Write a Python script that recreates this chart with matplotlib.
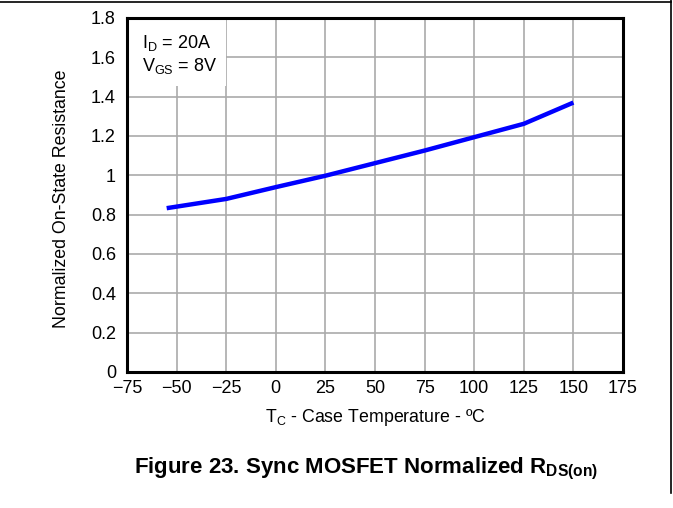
#!/usr/bin/env python3
import matplotlib
matplotlib.use("Agg")
import matplotlib.pyplot as plt
from matplotlib.lines import Line2D
from matplotlib.patches import Rectangle

TEMP = [-55, -25, 0, 25, 50, 75, 100, 125, 150]
RDS_NORM = [0.833, 0.880, 0.940, 0.998, 1.062, 1.126, 1.194, 1.262, 1.370]

XTICKS = [-75, -50, -25, 0, 25, 50, 75, 100, 125, 150, 175]
YTICKS = [0, 0.2, 0.4, 0.6, 0.8, 1, 1.2, 1.4, 1.6, 1.8]
YTICK_LABELS = ["0", "0.2", "0.4", "0.6", "0.8", "1", "1.2", "1.4", "1.6", "1.8"]


def main():
    plt.rcParams.update({
        'font.family': 'Liberation Sans',
        'mathtext.fontset': 'custom',
        'mathtext.rm': 'Liberation Sans',
        'mathtext.it': 'Liberation Sans:italic',
        'mathtext.bf': 'Liberation Sans:bold',
        'font.size': 13,
    })

    fig = plt.figure(figsize=(6.73, 5.08), dpi=100)
    W, H = 673, 508
    ax = fig.add_axes([127 / W, 1 - 372 / H, (623 - 127) / W, (372 - 18) / H])

    ax.set_xlim(-75, 175)
    ax.set_ylim(0, 1.8)
    ax.set_xticks(XTICKS)
    ax.set_yticks(YTICKS)
    ax.set_yticklabels(YTICK_LABELS)
    ax.tick_params(length=0, labelsize=13)
    ax.tick_params(axis='y', pad=8)
    ax.tick_params(axis='x', pad=6)
    ax.grid(True, color='#aaaaaa', linewidth=1.2)
    ax.set_axisbelow(True)
    for s in ax.spines.values():
        s.set_linewidth(2.2)
        s.set_color('black')

    # white box behind the condition text
    ax.add_patch(Rectangle((-75, 1.455), 50, 0.4, facecolor='white',
                           edgecolor='none', zorder=1.5))

    ax.plot(TEMP, RDS_NORM, color='#0000ff', linewidth=3.2, zorder=3,
            solid_capstyle='butt')

    ax.text(-67.5, 1.725, r'I$_\mathrm{D}$ = 20A', fontsize=13, va='top', zorder=4)
    ax.text(-67.5, 1.605, r'V$_\mathrm{GS}$ = 8V', fontsize=13, va='top', zorder=4)

    ax.set_xlabel(r'T$_\mathrm{C}$ - Case Temperature - ºC', fontsize=12.8, labelpad=7)
    ax.set_ylabel('Normalized On-State Resistance', fontsize=12.8)
    ax.yaxis.set_label_coords(-0.115, 0.49)

    fig.text(366 / W, 1 - 469 / H,
             r'Figure 23. Sync MOSFET Normalized R$_\mathbf{DS(on)}$',
             fontsize=16, fontweight='bold', ha='center', va='center')

    # page frame lines
    fig.add_artist(Line2D([0, 670.5 / W], [1 - 1.5 / H, 1 - 1.5 / H],
                          color='black', linewidth=1.2, transform=fig.transFigure))
    fig.add_artist(Line2D([670.5 / W, 670.5 / W], [1, 1 - 493 / H],
                          color='black', linewidth=1.2, transform=fig.transFigure))

    fig.savefig('out.png', dpi=100)


if __name__ == '__main__':
    main()
